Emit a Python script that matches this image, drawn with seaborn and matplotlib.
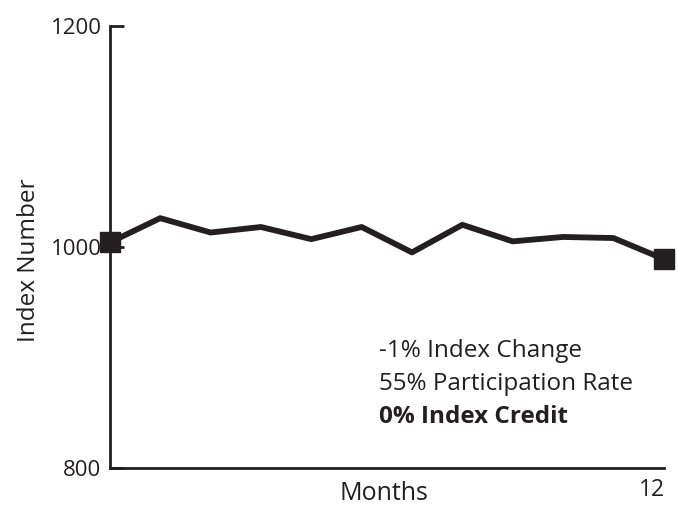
import matplotlib.pyplot as plt
import seaborn as sns
import pandas as pd

# 데이터
months = [1, 2, 3, 4, 5, 6, 7, 8, 9, 10, 11, 12]
index_values = [1004, 1026, 1013, 1018, 1007, 1018, 995, 1020, 1005, 1009, 1008, 989]
y_ticks = [800, 1000, 1200]
notes = ['-1% Index Change', '55% Participation Rate', '0% Index Credit']

df = pd.DataFrame({'month': months, 'index': index_values})

sns.set_style('ticks')
plt.rcParams['font.family'] = ['Open Sans', 'DejaVu Sans']

fig = plt.figure(figsize=(6.78, 5.08), dpi=100)
ax = fig.add_axes([0.162, 0.079, 0.817, 0.870])

sns.lineplot(data=df, x='month', y='index', ax=ax,
             color='#231f20', linewidth=4.2, clip_on=False)

# 양 끝 사각형 마커
ends = df.iloc[[0, -1]]
ax.plot(ends['month'], ends['index'], 's', color='#231f20',
        markersize=14, clip_on=False, zorder=5)

ax.set_xlim(1, 12)
ax.set_ylim(800, 1200)
ax.set_yticks(y_ticks)
ax.set_xticks([])
ax.tick_params(axis='y', direction='in', length=10, width=2,
               labelsize=16, colors='#231f20', pad=6)
for s in ['left', 'bottom']:
    ax.spines[s].set_linewidth(2)
    ax.spines[s].set_color('#231f20')
sns.despine(ax=ax)

ax.set_xlabel('')
ax.set_ylabel('Index Number', fontsize=17.5, color='#231f20')
ax.yaxis.set_label_coords(-0.125, 0.47)

fig.text(0.567, 0.016, 'Months', ha='center', va='baseline', fontsize=18, color='#231f20')
fig.text(0.981, 0.012, '12', ha='right', va='bottom', fontsize=16.5, color='#231f20')

for i, t in enumerate(notes):
    ax.text(6.35, 906 - i * 30, t, fontsize=17.5, color='#231f20', va='center',
            fontweight='bold' if i == 2 else 'normal')

fig.savefig('out.png', dpi=100)
